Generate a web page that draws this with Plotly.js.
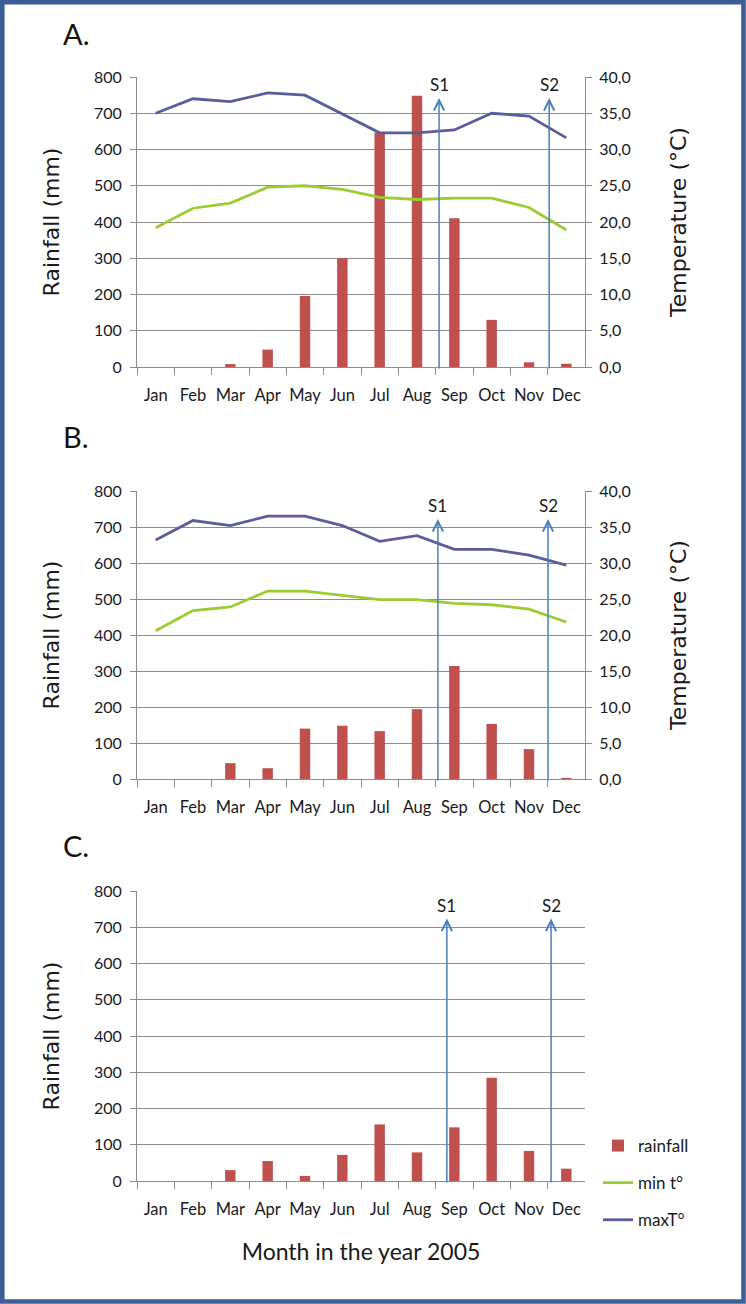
<!DOCTYPE html>
<html>
<head>
<meta charset="utf-8">
<script src="https://cdn.plot.ly/plotly-3.0.1.min.js"></script>
<style>
html,body{margin:0;padding:0;background:#fff;}
#chart{width:746px;height:1304px;}
</style>
</head>
<body>
<div id="chart"></div>
<script>
// ---------- data ----------
const months = ['Jan','Feb','Mar','Apr','May','Jun','Jul','Aug','Sep','Oct','Nov','Dec'];

const rainA = [0, 0, 8, 48, 196, 300, 647, 748, 410, 130, 13, 9];
const minTA = [19.2, 21.9, 22.6, 24.8, 25.0, 24.5, 23.4, 23.1, 23.3, 23.3, 22.0, 18.9];
const maxTA = [35.0, 37.0, 36.6, 37.8, 37.5, 34.9, 32.3, 32.3, 32.7, 35.0, 34.6, 31.6];

const rainB = [0, 0, 44, 30, 140, 148, 133, 194, 314, 153, 83, 3];
const minTB = [20.6, 23.4, 23.9, 26.1, 26.1, 25.5, 24.9, 24.9, 24.4, 24.2, 23.6, 21.8];
const maxTB = [33.2, 35.9, 35.2, 36.5, 36.5, 35.2, 33.0, 33.8, 31.9, 31.9, 31.1, 29.7];

const rainC = [0, 0, 30, 55, 14, 72, 156, 79, 148, 285, 83, 34];

// sampling markers (category index position, arrow top in mm) for panels A, B, C
const panelNames = ['A.', 'B.', 'C.'];
const s1Pos = [7.59, 7.56, 7.80];
const s2Pos = [10.54, 10.51, 10.59];
const arrowTop = [742, 722, 724];
const samplingLabels = ['S1', 'S2'];

const seriesNames = ['rainfall', 'min t\u00b0', 'maxT\u00b0'];

// ---------- styles ----------
const RED = '#c0504d', GREEN = '#9acd32', PURPLE = '#5b5c9c', BLUE = '#4a7ebb';
const GRID = '#8c8c8c';
const TICKFONT = {family: 'Lato, sans-serif', size: 16, color: '#1a1a1a'};
const XTICKFONT = {family: 'Lato, sans-serif', size: 16.5, color: '#1a1a1a'};
const TITLEFONT = {family: '"DejaVu Sans", sans-serif', size: 22, color: '#1a1a1a'};

const W = 746, H = 1304;
const xDom = [137 / W, 585 / W];
const panelsPx = [[77, 367], [491, 779], [891, 1181]];
const yDom = panelsPx.map(p => [1 - p[1] / H, 1 - p[0] / H]);

// ---------- traces ----------
const traces = [];
const rains = [rainA, rainB, rainC];
const mins = [minTA, minTB, null];
const maxs = [maxTA, maxTB, null];
const xa = ['x', 'x2', 'x3'];
const ya = ['y', 'y3', 'y5'];
const ya2 = ['y2', 'y4', null];

for (let i = 0; i < 3; i++) {
  traces.push({
    type: 'bar', x: months, y: rains[i], xaxis: xa[i], yaxis: ya[i],
    name: seriesNames[0], legendgroup: 'g1', showlegend: i === 0,
    marker: {color: RED}
  });
}
for (let i = 0; i < 2; i++) {
  traces.push({
    type: 'scatter', mode: 'lines', x: months, y: mins[i], xaxis: xa[i], yaxis: ya2[i],
    name: seriesNames[1], legendgroup: 'g2', showlegend: i === 0,
    line: {color: GREEN, width: 2.8}
  });
  traces.push({
    type: 'scatter', mode: 'lines', x: months, y: maxs[i], xaxis: xa[i], yaxis: ya2[i],
    name: seriesNames[2], legendgroup: 'g3', showlegend: i === 0,
    line: {color: PURPLE, width: 2.8}
  });
}

// ---------- layout ----------
function xAxis(anchor) {
  return {
    domain: xDom, anchor: anchor, type: 'category',
    range: [-0.5, 11.5],
    showgrid: false, zeroline: false,
    showline: true, linecolor: GRID, linewidth: 1,
    ticks: 'outside', tickson: 'boundaries', ticklen: 7, tickcolor: GRID,
    tickangle: 0, tickfont: XTICKFONT, ticklabelstandoff: 13, fixedrange: true
  };
}
function yAxis(anchor, domain) {
  return {
    domain: domain, anchor: anchor, range: [0, 800], dtick: 100,
    showgrid: true, gridcolor: GRID, gridwidth: 1, zeroline: false,
    showline: true, linecolor: GRID, linewidth: 1,
    ticks: 'outside', ticklen: 6, tickcolor: GRID,
    tickfont: TICKFONT, ticklabelstandoff: 5,
    title: {text: 'Rainfall (mm)', font: TITLEFONT, standoff: 28},
    fixedrange: true
  };
}
function y2Axis(anchor, overlay) {
  return {
    overlaying: overlay, side: 'right', anchor: anchor, range: [0, 40], dtick: 5,
    tickformat: '.1f', showgrid: false, zeroline: false,
    showline: true, linecolor: GRID, linewidth: 1,
    ticks: 'outside', ticklen: 6, tickcolor: GRID,
    tickfont: TICKFONT, ticklabelstandoff: 4,
    title: {text: 'Temperature (\u00b0C)', font: TITLEFONT, standoff: 40},
    fixedrange: true
  };
}

const layout = {
  width: W, height: H,
  margin: {l: 0, r: 0, t: 0, b: 0},
  paper_bgcolor: '#ffffff', plot_bgcolor: '#ffffff',
  separators: ', ',
  bargap: 0.72,
  showlegend: true,
  legend: {
    x: 598 / W, xanchor: 'left', y: 1 - 1128 / H, yanchor: 'top',
    traceorder: 'grouped', tracegroupgap: 12,
    font: {family: 'Lato, sans-serif', size: 17, color: '#1a1a1a'},
    bgcolor: 'rgba(0,0,0,0)'
  },
  xaxis: xAxis('y'),
  xaxis2: xAxis('y3'),
  xaxis3: Object.assign(xAxis('y5'), {
    title: {text: 'Month in the year 2005', font: {family: 'Lato, sans-serif', size: 23, color: '#1a1a1a'}, standoff: 26}
  }),
  yaxis: yAxis('x', yDom[0]),
  yaxis2: y2Axis('x', 'y'),
  yaxis3: yAxis('x2', yDom[1]),
  yaxis4: y2Axis('x2', 'y3'),
  yaxis5: yAxis('x3', yDom[2]),
  annotations: [],
  shapes: [{
    type: 'rect', xref: 'paper', yref: 'paper', layer: 'above',
    x0: 2.3 / W, x1: 1 - 2.5 / W, y0: 2.5 / H, y1: 1 - 2.3 / H,
    line: {color: '#3d5e94', width: 4.6}, fillcolor: 'rgba(0,0,0,0)'
  }]
};

// panel labels
const labelCentersPx = [34, 436, 845];
for (let i = 0; i < 3; i++) {
  layout.annotations.push({
    xref: 'paper', yref: 'paper', x: 61 / W, y: 1 - labelCentersPx[i] / H,
    xanchor: 'left', yanchor: 'middle', showarrow: false,
    text: panelNames[i], font: {family: 'Lato, sans-serif', size: 29, color: '#111'}
  });
}

// sampling arrows S1, S2
for (let i = 0; i < 3; i++) {
  const positions = [s1Pos[i], s2Pos[i]];
  for (let k = 0; k < 2; k++) {
    layout.annotations.push({
      xref: xa[i], yref: ya[i], axref: xa[i], ayref: ya[i],
      x: positions[k], y: arrowTop[i], ax: positions[k], ay: -8,
      text: '', showarrow: true, arrowhead: 5, arrowsize: 1.35, arrowwidth: 1.5,
      arrowcolor: BLUE, standoff: 0, startstandoff: 0
    });
    layout.annotations.push({
      xref: xa[i], yref: ya[i], x: positions[k], y: arrowTop[i],
      yanchor: 'bottom', xanchor: 'center', yshift: 1, showarrow: false,
      text: samplingLabels[k], font: {family: 'Lato, sans-serif', size: 17, color: '#1a1a1a'}
    });
  }
}

Plotly.newPlot('chart', traces, layout, {staticPlot: true, displayModeBar: false});
</script>
</body>
</html>
